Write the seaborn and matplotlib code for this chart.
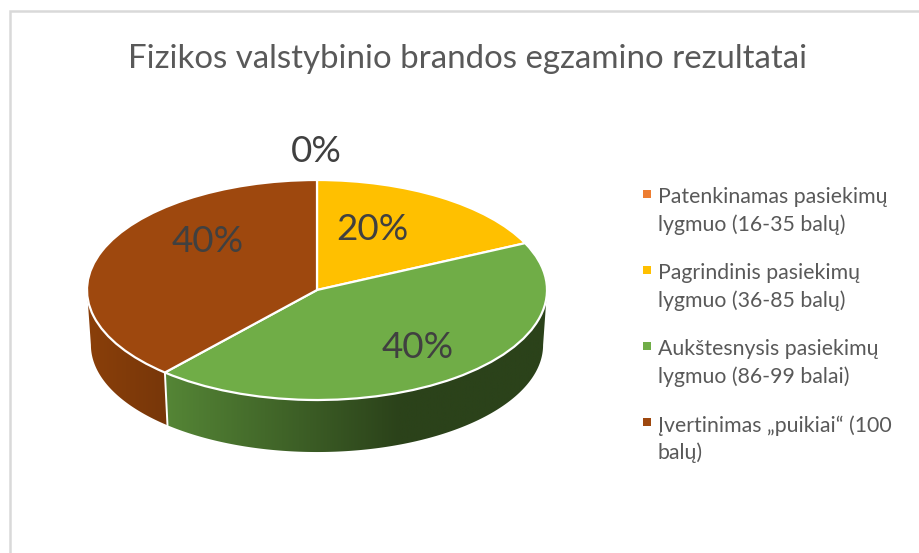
import numpy as np
import matplotlib
matplotlib.use('Agg')
import matplotlib.pyplot as plt
import seaborn as sns
from matplotlib.patches import Polygon, Rectangle

# kategorijos ir reiksmes (sektoriu dydziai nuskaityti is paveikslo)
categories = ['Patenkinamas pasiekimų\nlygmuo (16-35 balų)',
              'Pagrindinis pasiekimų\nlygmuo (36-85 balų)',
              'Aukštesnysis pasiekimų\nlygmuo (86-99 balai)',
              'Įvertinimas „puikiai“ (100\nbalų)']
shares = [0, 18, 43.5, 38.5]
shown_labels = ['0%', '20%', '40%', '40%']
colors = ['#ed7d31', '#ffc000', '#70ad47', '#9e480e']
wall_colors = [('#c5652a', '#8f4a1c'), ('#bf9000', '#7f6000'),
               ('#558636', '#2b421a'), ('#8a3f0a', '#783709')]
wall_fade = [0.3, 0.3, 1.02, 0.34]

W, H = 920, 553
sns.set_theme(style='white')
plt.rcParams['font.family'] = ['Lato', 'DejaVu Sans']

fig = plt.figure(figsize=(W / 100, H / 100), dpi=100, facecolor='white')

# pie squashed to an ellipse, axes made taller so the wall fits in
ax = fig.add_axes([82.4 / W, 1 - 466 / H, 469.2 / W, 288.2 / H])
ax.pie(shares, colors=colors, startangle=90, counterclock=False, radius=1,
       wedgeprops={'edgecolor': 'white', 'linewidth': 1.6, 'zorder': 2})

# side wall of the pie, only its front half can be seen
depth = 0.5
rx_low, ry_low = 0.983, 0.973
edges = np.cumsum([0] + shares) / sum(shares) * 2 * np.pi
for i in range(len(shares)):
    a0 = max(edges[i], np.pi / 2)
    a1 = min(edges[i + 1], 3 * np.pi / 2)
    if a1 <= a0:
        continue
    th = np.linspace(a0, a1, 200)
    xy = np.vstack([np.c_[np.sin(th), np.cos(th)],
                    np.c_[rx_low * np.sin(th[::-1]), ry_low * np.cos(th[::-1]) - depth]])
    poly = Polygon(xy, closed=True, transform=ax.transData, fc='none', ec='none')
    ax.add_patch(poly)
    x_start = np.sin(a1)
    x_grid = np.linspace(-1.02, 1.02, 512)
    grad = np.clip((x_grid - x_start) / wall_fade[i], 0, 1)
    im = ax.imshow(grad[None, :], extent=(-1.02, 1.02, -1.6, 1.02), aspect='auto', zorder=1,
                   cmap=sns.blend_palette(wall_colors[i], 128, as_cmap=True), vmin=0, vmax=1)
    im.set_clip_path(poly)
    if edges[i] > np.pi / 2 and shares[i] > 0:
        t = edges[i]
        ax.plot([np.sin(t), rx_low * np.sin(t)], [np.cos(t), ry_low * np.cos(t) - depth],
                color='white', lw=1.4, zorder=1.5)

ax.set_aspect('auto')
ax.set_xlim(-1.02, 1.02)
ax.set_ylim(-1.6, 1.02)
ax.axis('off')

# overlay in pixels for the texts, frame and legend
top = fig.add_axes([0, 0, 1, 1], facecolor='none')
top.set_xlim(0, W)
top.set_ylim(H, 0)
top.axis('off')

top.plot([W, 10, 10], [11, 11, H], color='#d9d9d9', lw=1.8, solid_joinstyle='miter')
top.text(468, 59, 'Fizikos valstybinio brandos egzamino rezultatai',
         fontsize=23.8, color='#595959', ha='center', va='center')

label_xy = [(316, 152), (372, 230), (418, 347), (208, 242)]
for txt, (lx, ly) in zip(shown_labels, label_xy):
    top.text(lx, ly, txt, fontsize=26.5, color='#404040', ha='center', va='center')

for i, name in enumerate(categories):
    y = 194 + 76 * i
    top.add_patch(Rectangle((643, y - 4), 8, 8, color=colors[i], lw=0))
    top.text(658, y - 7, name, fontsize=15.3, color='#595959', ha='left', va='top', linespacing=1.43)

fig.savefig('out.png', dpi=100)
